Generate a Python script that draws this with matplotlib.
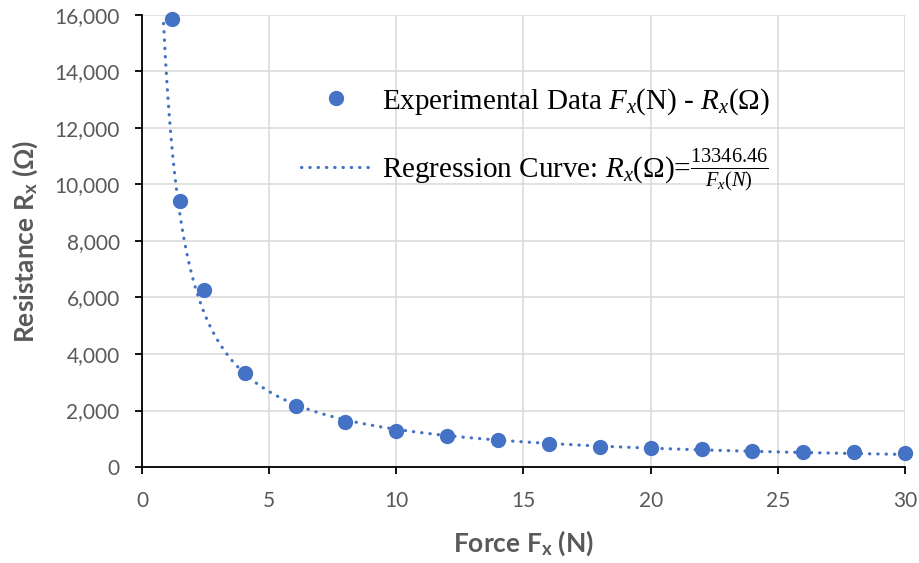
import matplotlib.pyplot as plt
import numpy as np

force = [1.18, 1.51, 2.44, 4.05, 6.06, 8.0, 10.0, 12.0, 14.0, 16.0, 18.0,
         20.0, 22.0, 24.0, 26.0, 28.0, 30.0]
resistance = [15860, 9420, 6270, 3330, 2160, 1610, 1290, 1110, 945, 805, 720,
              673, 626, 578, 542, 520, 505]

# regression R = k / F, coefficient as printed in the legend
k_fit = 13346.46
fit_start, fit_end = 0.85, 30

x_ticks = [0, 5, 10, 15, 20, 25, 30]
y_ticks = [0, 2000, 4000, 6000, 8000, 10000, 12000, 14000, 16000]

blue = "#4472C4"
gray = "#595959"

plt.rcParams["mathtext.fontset"] = "custom"
plt.rcParams["mathtext.rm"] = "Liberation Serif"
plt.rcParams["mathtext.it"] = "Liberation Serif:italic"
plt.rcParams["mathtext.bf"] = "Lato:bold"

fig = plt.figure(figsize=(9.2, 5.63), dpi=100)
ax = fig.add_axes([0.1543, 0.1705, 0.8294, 0.8029])

fx = np.linspace(fit_start, fit_end, 400)
ax.plot(fx, k_fit / fx, color=blue, lw=2.3, linestyle=(0, (0.1, 2.5)),
        dash_capstyle="round",
        label=r"Regression Curve: $R_x$(Ω)=$\frac{13346.46}{F_x(N)}$")
ax.plot(force, resistance, "o", color=blue, markersize=10, clip_on=False,
        zorder=3, label=r"Experimental Data $F_x$(N) - $R_x$(Ω)")

ax.set_xlim(0, 30)
ax.set_ylim(0, 16000)
ax.set_xticks(x_ticks)
ax.set_yticks(y_ticks)
ax.set_yticklabels([f"{v:,}" for v in y_ticks])
ax.grid(color="#d9d9d9", lw=1.1)
ax.set_axisbelow(True)

for s in ["top", "right"]:
    ax.spines[s].set_visible(False)
for s in ["left", "bottom"]:
    ax.spines[s].set_linewidth(1.3)
    ax.spines[s].set_color("black")

ax.tick_params(direction="out", length=5, width=1.3, color="black",
               labelcolor=gray, labelsize=15)
ax.tick_params(axis="x", pad=12)
ax.tick_params(axis="y", pad=11)
for lab in ax.get_xticklabels() + ax.get_yticklabels():
    lab.set_fontfamily("Lato")

ax.set_xlabel(r"Force F$_\mathbf{x}$ (N)", fontfamily="Lato", fontweight="bold",
              fontsize=19, color=gray, labelpad=13)
ax.set_ylabel(r"Resistance R$_\mathbf{x}$ (Ω)", fontfamily="Lato",
              fontweight="bold", fontsize=19, color=gray, labelpad=10)

handles, labels = ax.get_legend_handles_labels()
ax.legend(handles[::-1], labels[::-1], loc="upper left",
          bbox_to_anchor=(0.189, 0.875), frameon=False, borderpad=0,
          handlelength=2.45, handletextpad=0.35, labelspacing=1.05,
          prop={"family": "Liberation Serif", "size": 21})

fig.savefig("out.png", dpi=100)
